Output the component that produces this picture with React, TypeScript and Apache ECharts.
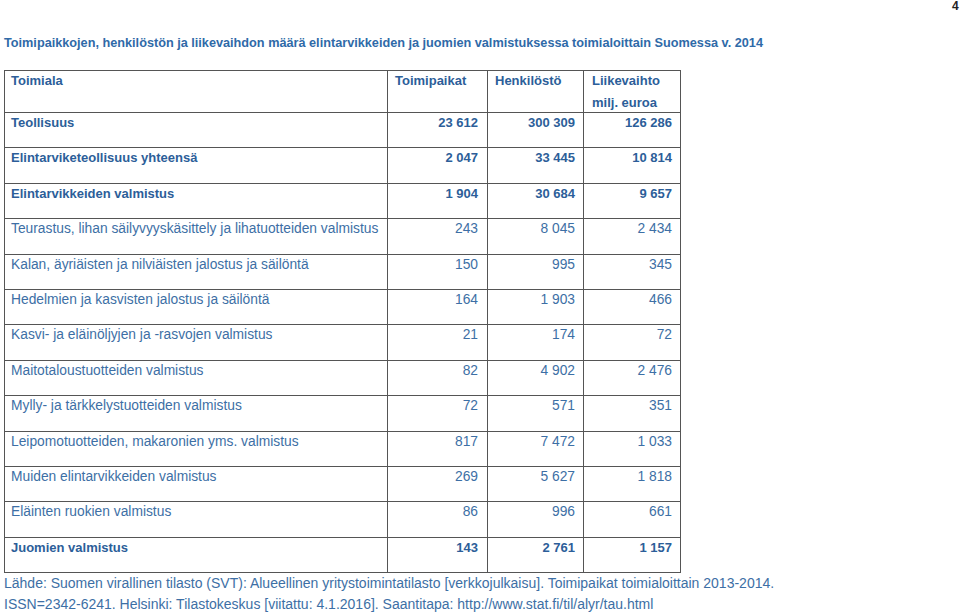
import React, { useEffect, useRef } from "react";
import * as echarts from "echarts";

const title =
  "Toimipaikkojen, henkilöstön ja liikevaihdon määrä elintarvikkeiden ja juomien valmistuksessa toimialoittain Suomessa v. 2014";
const headers = ["Toimiala", "Toimipaikat", "Henkilöstö", "Liikevaihto"];
const headerSub = "milj. euroa";
const categories = [
  "Teollisuus",
  "Elintarviketeollisuus yhteensä",
  "Elintarvikkeiden valmistus",
  "Teurastus, lihan säilyvyyskäsittely ja lihatuotteiden valmistus",
  "Kalan, äyriäisten ja nilviäisten jalostus ja säilöntä",
  "Hedelmien ja kasvisten jalostus ja säilöntä",
  "Kasvi- ja eläinöljyjen ja -rasvojen valmistus",
  "Maitotaloustuotteiden valmistus",
  "Mylly- ja tärkkelystuotteiden valmistus",
  "Leipomotuotteiden, makaronien yms. valmistus",
  "Muiden elintarvikkeiden valmistus",
  "Eläinten ruokien valmistus",
  "Juomien valmistus",
];
const boldRows = [true, true, true, false, false, false, false, false, false, false, false, false, true];
const toimipaikat = [23612, 2047, 1904, 243, 150, 164, 21, 82, 72, 817, 269, 86, 143];
const henkilosto = [300309, 33445, 30684, 8045, 995, 1903, 174, 4902, 571, 7472, 5627, 996, 2761];
const liikevaihto = [126286, 10814, 9657, 2434, 345, 466, 72, 2476, 351, 1033, 1818, 661, 1157];
const footer = [
  "Lähde: Suomen virallinen tilasto (SVT): Alueellinen yritystoimintatilasto [verkkojulkaisu]. Toimipaikat toimialoittain 2013-2014.",
  "ISSN=2342-6241. Helsinki: Tilastokeskus [viitattu: 4.1.2016]. Saantitapa: http://www.stat.fi/til/alyr/tau.html",
];
const pageNumber = "4";

const fmt = (n: number) => String(n).replace(/\B(?=(\d{3})+(?!\d))/g, " ");

export default function App() {
  const ref = useRef<HTMLDivElement>(null);
  useEffect(() => {
    if (!ref.current) return;
    const chart = echarts.init(ref.current, null, { renderer: "svg" });
    const FONT = "'Liberation Sans', Arial, sans-serif";
    const boldColor = "#2c5e99";
    const regColor = "#3d6fa5";
    const lineColor = "#555555";
    const left = 4;
    const right = 680;
    const colX = [left, 387, 487, 583, right];
    const top = 70;
    const headerBottom = 112;
    const rowH = 35.4;
    const bottom = headerBottom + rowH * categories.length;
    const els: any[] = [];
    const hy = [top, headerBottom];
    for (let i = 1; i <= categories.length; i++) hy.push(headerBottom + rowH * i);
    hy.forEach((y) =>
      els.push({
        type: "line",
        shape: { x1: left, y1: Math.round(y) + 0.5, x2: right, y2: Math.round(y) + 0.5 },
        style: { stroke: lineColor, lineWidth: 1 },
      })
    );
    colX.forEach((x) =>
      els.push({
        type: "line",
        shape: { x1: x + 0.5, y1: top, x2: x + 0.5, y2: Math.round(bottom) + 1 },
        style: { stroke: lineColor, lineWidth: 1 },
      })
    );
    const txt = (x: number, y: number, text: string, opts: any = {}) =>
      els.push({
        type: "text",
        x,
        y,
        style: {
          text,
          fontFamily: FONT,
          fontSize: opts.size ?? 13,
          fontWeight: opts.bold ? "bold" : "normal",
          fill: opts.color ?? (opts.bold ? boldColor : regColor),
          align: opts.align ?? "left",
          verticalAlign: "middle",
        },
      });
    txt(4, 43, title, { bold: true, size: 12.7, color: "#2f6aa8" });
    txt(11, 80, headers[0], { bold: true });
    txt(395, 80, headers[1], { bold: true });
    txt(495, 80, headers[2], { bold: true });
    txt(592, 80, headers[3], { bold: true });
    txt(592, 102, headerSub, { bold: true });
    const valX = [478, 575, 672];
    categories.forEach((c, i) => {
      const y = headerBottom + rowH * i + 10.5;
      const b = boldRows[i];
      const size = b ? 13 : 13.8;
      txt(11, y, c, { bold: b, size });
      txt(valX[0], y, fmt(toimipaikat[i]), { bold: b, align: "right", size });
      txt(valX[1], y, fmt(henkilosto[i]), { bold: b, align: "right", size });
      txt(valX[2], y, fmt(liikevaihto[i]), { bold: b, align: "right", size });
    });
    txt(4, 583, footer[0], { color: regColor, size: 14 });
    txt(4, 604, footer[1], { color: regColor, size: 14 });
    txt(952, 6, pageNumber, { color: "#222", size: 12, bold: true });
    chart.setOption({ animation: false, graphic: { elements: els } });
    return () => chart.dispose();
  }, []);
  return (
    <div
      ref={ref}
      style={{ position: "fixed", left: 0, top: 0, width: 960, height: 614, background: "#fff" }}
    />
  );
}
